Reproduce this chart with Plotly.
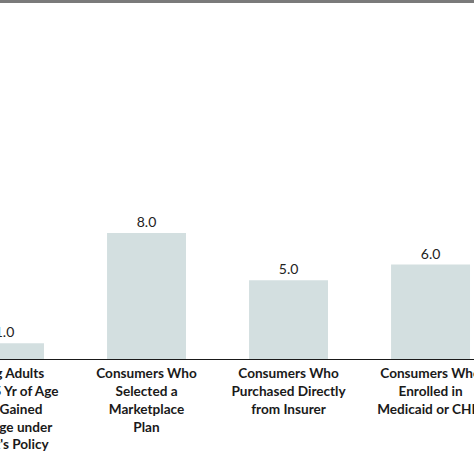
import plotly.graph_objects as go

# Categories (multi-line labels) and values
categories = [
    "Young Adults<br>19 to 25 Yr of Age<br>Who Gained<br>Coverage under<br>Parent's Policy",
    "Consumers Who<br>Selected a<br>Marketplace<br>Plan",
    "Consumers Who<br>Purchased Directly<br>from Insurer",
    "Consumers Who<br>Enrolled in<br>Medicaid or CHIP",
]
values = [1.0, 8.0, 5.0, 6.0]
value_text = ["%.1f" % v for v in values]

fig = go.Figure()
fig.add_trace(go.Bar(
    x=categories,
    y=values,
    text=value_text,
    textposition="outside",
    textfont=dict(family="Lato", size=14, color="#222222"),
    marker=dict(color="#d3dfe0", line=dict(width=0)),
    width=0.556,
    cliponaxis=False,
))

fig.update_layout(
    width=474,
    height=474,
    margin=dict(l=0, r=0, t=0, b=115),
    paper_bgcolor="white",
    plot_bgcolor="white",
    showlegend=False,
    font=dict(family="Lato", size=14, color="#1a1a1a"),
)

# Baseline only, no grid; the panel is cropped on both sides
fig.update_xaxes(
    range=[-0.0317, 3.306],
    automargin=False,
    showline=True,
    linewidth=1.3,
    linecolor="#1a1a1a",
    ticks="",
    ticklabelstandoff=2,
    showgrid=False,
    tickfont=dict(family="Lato", size=13.6, color="#1a1a1a", weight="bold"),
)
fig.update_yaxes(
    range=[0, 22.8],
    automargin=False,
    visible=False,
    showgrid=False,
)

# Thin gray rule at the top of the panel
fig.add_shape(
    type="rect", xref="paper", yref="paper", layer="above",
    x0=0, x1=1, y0=1 - 3 / 359, y1=1,
    fillcolor="#7a7a7a", line=dict(width=0),
)

# drop the default 8px page margin so the figure fills the window
fig.write_html(
    "out.html",
    config={"displayModeBar": False},
    post_script="document.body.style.margin='0';document.body.style.overflow='hidden';",
)
